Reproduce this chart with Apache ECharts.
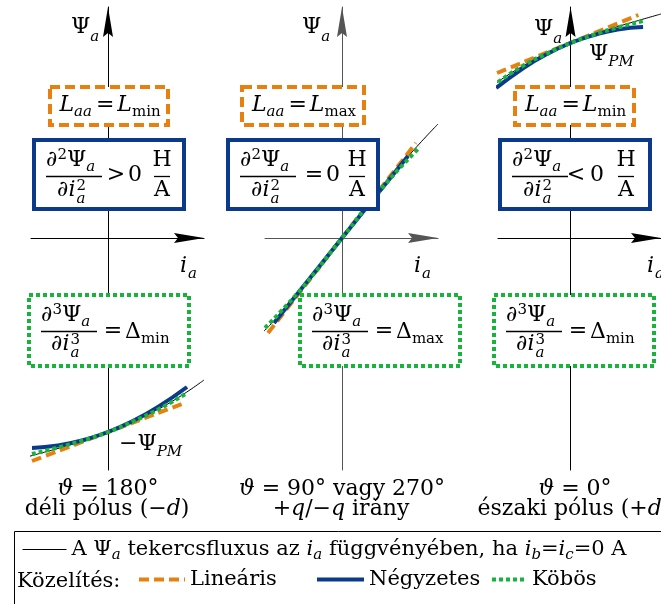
<!DOCTYPE html>
<html>
<head>
<meta charset="utf-8">
<script src="https://cdn.jsdelivr.net/npm/echarts@6/dist/echarts.min.js"></script>
<style>
html, body { margin: 0; padding: 0; background: #fff; }
#chart { width: 661px; height: 604px; }
</style>
</head>
<body>
<div id="chart"></div>
<script>
// panel 1: theta = 180 deg (south pole), values in axis units (1 unit ~ 10 px)
const i1Flux = [-9.6, -6.8, -4, -2, 0, 2, 4, 6.8, 9.6];
const psi1Flux = [-22.3, -21.54, -20.75, -20.1, -19.4, -18.6, -17.65, -16.1, -14.2];
const i1Lin = [-7.6, 7.5];
const psi1Lin = [-22.3, -16.55];
const i1Quad = [-7.6, -5, -2.5, 0, 2.5, 5, 7.9];
const psi1Quad = [-21.0, -20.76, -20.22, -19.4, -18.29, -16.89, -14.9];
const i1Cub = [-7.6, -5, -2.5, 0, 2.5, 5, 7.9];
const psi1Cub = [-21.6, -20.95, -20.25, -19.4, -18.35, -17.15, -15.5];

// panel 2: theta = 90 / 270 deg
const i2Flux = [-9.7, -7, -4.5, -2, 0, 2, 4.5, 7, 9.6];
const psi2Flux = [-11.1, -8.5, -5.65, -2.54, 0, 2.54, 5.65, 8.6, 11.4];
const i2Lin = [-7.4, 7.4];
const psi2Lin = [-9.5, 9.5];
const i2Quad = [-6.8, 0, 6.6];
const psi2Quad = [-8.5, 0, 8.2];
const i2Cub = [-7.7, -4, 0, 4, 7.8];
const psi2Cub = [-9.0, -5.0, 0, 5.0, 9.1];

// panel 3: theta = 0 deg (north pole)
const i3Flux = [-9.6, -6.8, -4, -2, 0, 2, 4, 6.8, 9.6];
const psi3Flux = [14.3, 16.2, 17.75, 18.7, 19.5, 20.2, 20.85, 21.64, 22.4];
const i3Lin = [-7.8, 7.2];
const psi3Lin = [16.5, 22.3];
const i3Quad = [-7.9, -5, -2.5, 0, 2.5, 5, 7.7];
const psi3Quad = [15.0, 17.0, 18.4, 19.5, 20.3, 20.85, 21.1];
const i3Cub = [-7.7, -5, -2.5, 0, 2.5, 5, 7.7];
const psi3Cub = [15.6, 17.25, 18.45, 19.5, 20.35, 21.05, 21.7];

const ORANGE = '#e8800f', BLUE = '#0b3a8c', GREEN = '#17b43b';
const FONT = 'DejaVu Serif';
const panelX = [108, 342, 575];
const axisColor = ['#000', '#555', '#000'];
const ARROW = 'path://M5,0 L10,30 L5,26 L0,30 Z';

const curves = [
    [[i1Flux, psi1Flux], [i1Lin, psi1Lin], [i1Quad, psi1Quad], [i1Cub, psi1Cub]],
    [[i2Flux, psi2Flux], [i2Lin, psi2Lin], [i2Quad, psi2Quad], [i2Cub, psi2Cub]],
    [[i3Flux, psi3Flux], [i3Lin, psi3Lin], [i3Quad, psi3Quad], [i3Cub, psi3Cub]]
];
const names = ['flux', 'lin', 'quad', 'cub'];
const lineStyles = [
    {color: '#000', width: 1},
    {color: ORANGE, width: 4, type: [10, 5]},
    {color: BLUE, width: 4},
    {color: GREEN, width: 4, type: [4, 3]}
];

let grids = [], xAxes = [], yAxes = [], series = [];
panelX.forEach(function (cx, p) {
    grids.push({left: cx - 77, top: 7, width: 173, height: 463});
    let line = {
        onZero: true, symbol: ['none', ARROW], symbolSize: [10, 30], symbolOffset: [0, -15],
        lineStyle: {color: axisColor[p], width: 1}
    };
    let common = {
        gridIndex: p, type: 'value', axisLine: line,
        axisTick: {show: false}, axisLabel: {show: false}, splitLine: {show: false}
    };
    xAxes.push(Object.assign({min: -7.7, max: 9.6}, common));
    yAxes.push(Object.assign({min: -23.2, max: 23.1}, common));
    curves[p].forEach(function (c, k) {
        series.push({
            type: 'line', name: names[k], xAxisIndex: p, yAxisIndex: p,
            data: c[0].map(function (x, j) { return [x, c[1][j]] }),
            smooth: true, symbol: 'none', clip: false, silent: true,
            lineStyle: lineStyles[k]
        });
    });
});

// ---- text / math helpers for the annotations ----
const KM = 0.346;
const ctx2d = document.createElement('canvas').getContext('2d');
let gfx = [];
function P(t, s, it, dy, g) { return {t: t, s: s, it: !!it, dy: dy || 0, g: g || 0}; }
function fnt(p) { return (p.it ? 'italic ' : '') + p.s + 'px "' + FONT + '"'; }
function wid(p) { ctx2d.font = fnt(p); return ctx2d.measureText(p.t).width; }
function runW(parts) {
    return parts.reduce(function (w, p) {
        return w + (p.stack ? Math.max.apply(null, p.stack.map(wid)) : wid(p) + p.g);
    }, 0);
}
function glyph(x, base, p) {
    return {
        type: 'text', x: x, y: base + p.dy - KM * p.s, z: 20, silent: true,
        style: {text: p.t, font: fnt(p), fill: '#000', align: 'left', verticalAlign: 'middle',
            textAlign: 'left', textVerticalAlign: 'middle'}
    };
}
function put(x, base, parts, center) {
    let cur = center ? x - runW(parts) / 2 : x;
    parts.forEach(function (p) {
        if (p.stack) {
            p.stack.forEach(function (q) { gfx.push(glyph(cur, base, q)); });
            cur += Math.max.apply(null, p.stack.map(wid));
        } else {
            gfx.push(glyph(cur, base, p));
            cur += wid(p) + p.g;
        }
    });
}
function box(x0, x1, y0, y1, color, dash) {
    gfx.push({
        type: 'rect', z: 10, silent: true,
        shape: {x: x0 + 2, y: y0 + 2, width: x1 - x0 - 4, height: y1 - y0 - 4},
        style: {fill: '#fff', stroke: color, lineWidth: 4, lineDash: dash}
    });
}
function bar(x0, x1, y) {
    gfx.push({type: 'line', z: 20, silent: true, shape: {x1: x0, y1: y, x2: x1, y2: y},
        style: {stroke: '#000', lineWidth: 1.3}});
}

const S = 22, s = 15;
const psiLabelX = [71, 302, 534], psiLabelBase = [35, 35, 37];
const orangeBox = [[48, 170], [240, 366], [513, 636]];
const blueBox = [[32, 186], [226, 380], [498, 652]];
const greenBox = [[27, 191], [298, 462], [492, 656]];
const relX = [84, 88, 78], zeroX = [103, 107, 99], hX = [130, 131, 128];
const lSub = ['min', 'max', 'min'];
const rel2 = ['>', '=', '<'];
const dSub = ['min', 'max', 'min'];
const label1 = [
    [P('ϑ', S, 1), P(' = 180°', S)],
    [P('ϑ', S, 1), P(' = 90° vagy 270°', S)],
    [P('ϑ', S, 1), P(' = 0°', S)]
];
const label2 = [
    [P('déli pólus (−', S), P('d', S, 1), P(')', S)],
    [P('+', S), P('q', S, 1), P('/−', S), P('q', S, 1), P(' irány', S)],
    [P('északi pólus (+', S), P('d', S, 1), P(')', S)]
];

panelX.forEach(function (cx, p) {
    // axis names
    put(psiLabelX[p], psiLabelBase[p], [P('Ψ', S), P('a', s, 1, 7)]);
    put(cx + 72, 274, [P('i', S, 1, 0, 1), P('a', s, 1, 5)]);

    // inductance box
    let ob = orangeBox[p];
    box(ob[0], ob[1], 85, 127, ORANGE, [10, 5]);
    put((ob[0] + ob[1]) / 2 + 1, 113, [P('L', S, 1), P('aa', s, 1, 4, 4), P('=', S, 0, 0, 3),
        P('L', S, 1), P(lSub[p], s, 0, 4)], true);

    // second derivative box
    let bl = blueBox[p][0];
    box(bl, blueBox[p][1], 138, 211, BLUE, null);
    put(bl + 14, 168, [P('∂', S, 1), P('2', s, 0, -8), P('Ψ', S), P('a', s, 1, 4)]);
    bar(bl + 14, bl + 70, 176.5);
    put(bl + 25, 198, [P('∂', S, 1), P('i', S, 1, 0, 1), {stack: [P('2', s, 0, -7), P('a', s, 1, 6)]}]);
    put(bl + relX[p], 183, [P(rel2[p], S)], true);
    put(bl + zeroX[p], 183, [P('0', S)], true);
    put(bl + hX[p], 168, [P('H', S)], true);
    bar(bl + hX[p] - 8, bl + hX[p] + 8, 176.5);
    put(bl + hX[p], 198, [P('A', S)], true);

    // third derivative box
    let gl = greenBox[p][0];
    box(gl, greenBox[p][1], 293, 368, GREEN, [4, 3]);
    put(gl + 14, 323, [P('∂', S, 1), P('3', s, 0, -8), P('Ψ', S), P('a', s, 1, 4)]);
    bar(gl + 14, gl + 70, 331.5);
    put(gl + 24, 352, [P('∂', S, 1), P('i', S, 1, 0, 1), {stack: [P('3', s, 0, -7), P('a', s, 1, 6)]}]);
    put(gl + 86, 339, [P('=', S)], true);
    put(gl + 98, 340, [P('Δ', S), P(dSub[p], s, 0, 4)]);

    // bottom captions
    put(cx, 497, label1[p], true);
    put(cx - 1, 517, label2[p], true);
});
put(119, 452, [P('−Ψ', S), P('PM', s, 1, 5)]);
put(589, 62, [P('Ψ', S), P('PM', s, 1, 5)]);

// legend frame and prefix
gfx.push({type: 'rect', z: 5, silent: true, shape: {x: 14.5, y: 531.5, width: 700, height: 100},
    style: {fill: 'none', stroke: '#000', lineWidth: 1}});
put(17, 582 + KM * 21, [P('Közelítés:', 21)]);

const legRich = {
    r: {fontFamily: FONT, fontSize: 21, lineHeight: 26, color: '#000'},
    i: {fontFamily: FONT, fontSize: 21, fontStyle: 'italic', lineHeight: 26, color: '#000'},
    s: {fontFamily: FONT, fontSize: 15, fontStyle: 'italic', lineHeight: 8, verticalAlign: 'bottom', color: '#000'}
};
const legendText = {
    flux: '{r|A Ψ}{s|a}{r| tekercsfluxus az }{i|i}{s|a}{r| függvényében, ha }{i|i}{s|b}{r|=}{i|i}{s|c}{r|=0 A}',
    lin: '{r|Lineáris}',
    quad: '{r|Négyzetes}',
    cub: '{r|Köbös}'
};
function legendAt(name, left, top, w, lw) {
    return {
        data: [name], left: left, top: top, itemWidth: w, itemHeight: 14, padding: 0,
        selectedMode: false, itemStyle: {opacity: 0}, lineStyle: {width: lw},
        formatter: function (n) { return legendText[n]; },
        textStyle: {rich: legRich}
    };
}

let chart = echarts.init(document.getElementById('chart'));
chart.setOption({
    animation: false,
    backgroundColor: '#fff',
    textStyle: {fontFamily: FONT},
    grid: grids,
    xAxis: xAxes,
    yAxis: yAxes,
    legend: [
        legendAt('flux', 22, 539, 44, 1),
        legendAt('lin', 137, 569, 46, 4),
        legendAt('quad', 315, 569, 47, 4),
        legendAt('cub', 490, 569, 35, 4)
    ],
    series: series,
    graphic: gfx
});
</script>
</body>
</html>
